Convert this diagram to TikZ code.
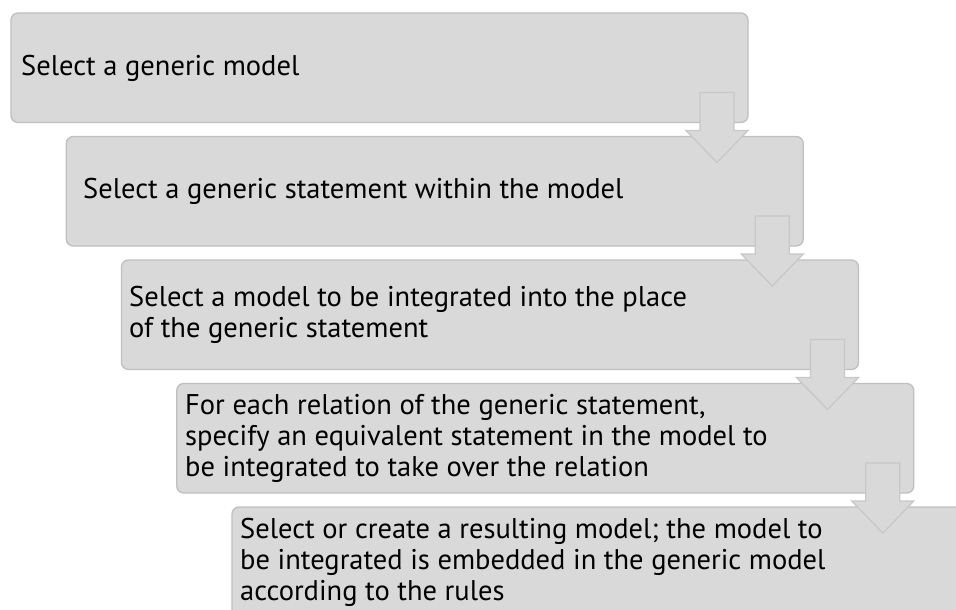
\documentclass[tikz,border=0pt]{standalone}
\usepackage{fontspec}
\setmainfont{PT Sans}
\usetikzlibrary{calc}
\definecolor{stepfill}{RGB}{217,217,217}
\definecolor{stepline}{RGB}{191,191,191}
\definecolor{arrowline}{RGB}{200,200,200}

% block arrow from the lower right of one step box into the next one
\newcommand\stepdown[2]{%
  \draw[blockarrow]
    ($(#1.south east)+(-48,-30)$) -- ++(34,0)
    -- ($(#1.south east |- #2.north)+(-14,-6)$) -- ++(14,0)
    -- ($(#1.south east |- #2.north)+(-31,26)$)
    -- ($(#1.south east |- #2.north)+(-62,-6)$) -- ++(14,0) -- cycle;}

\begin{document}
\begin{tikzpicture}[x=1pt,y=-1pt,
  stepbox/.style={rectangle, draw=stepline, fill=stepfill, line width=1.3pt,
    rounded corners=7pt, minimum width=737pt, minimum height=109.5pt,
    inner sep=0pt, outer sep=0pt, anchor=north west},
  steptext/.style={anchor=base west, inner sep=0pt,
    font=\fontsize{28.5}{31}\selectfont},
  blockarrow/.style={draw=arrowline, fill=stepfill, line width=1.3pt,
    line join=miter}]
\useasboundingbox (0,0) rectangle (956,610);
\clip (0,0) rectangle (956,610);

\node[stepbox] (b1) at (11,13) {};
\node[stepbox] (b2) at (66.25,136.5) {};
\node[stepbox] (b3) at (121.5,260) {};
\node[stepbox] (b4) at (176.75,383.5) {};
\node[stepbox] (b5) at (232,507) {};

\stepdown{b1}{b2}
\stepdown{b2}{b3}
\stepdown{b3}{b4}
\stepdown{b4}{b5}

\node[steptext] (t1) at (21,76) {Select a generic model};
\node[steptext] (t2) at (83,198) {Select a generic statement within the model};
\node[steptext] (t3) at (129,306) {\begin{tabular}[t]{@{}l@{}}Select a model to be integrated into the place\\
  of the generic statement\end{tabular}};
\node[steptext] (t4) at (185,414) {\begin{tabular}[t]{@{}l@{}}For each relation of the generic statement,\\
  specify an equivalent statement in the model to\\
  be integrated to take over the relation\end{tabular}};
\node[steptext] (t5) at (240,538) {\begin{tabular}[t]{@{}l@{}}Select or create a resulting model; the model to\\
  be integrated is embedded in the generic model\\
  according to the rules\end{tabular}};
\end{tikzpicture}
\end{document}
